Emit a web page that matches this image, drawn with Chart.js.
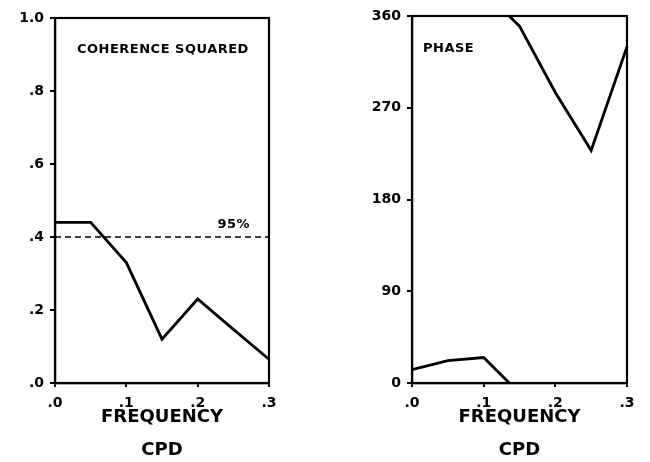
<!DOCTYPE html>
<html>
<head>
<meta charset="utf-8">
<script src="https://cdn.jsdelivr.net/npm/chart.js@4"></script>
<style>
  html, body { margin: 0; padding: 0; background: #fff; overflow: hidden; }
  body { width: 650px; height: 462px; position: relative; }
  .panel { position: absolute; top: 0; height: 470px; }
  #coh { left: 0; width: 300px; }
  #pha { left: 340px; width: 310px; }
</style>
</head>
<body>
<div class="panel" id="coh"><canvas id="cohChart"></canvas></div>
<div class="panel" id="pha"><canvas id="phaChart"></canvas></div>
<script>
const freq = [0, 0.05, 0.1, 0.15, 0.2, 0.25, 0.3];
const coherence = [0.44, 0.44, 0.33, 0.12, 0.23, 0.147, 0.065];
const phaseDeg = [13, 22, 25, 350, 285, 228, 330];
const sigLevel = 0.4;
const sigLabel = "95%";
const freqTicks = [0, 0.1, 0.2, 0.3];
const cohTicks = [0, 0.2, 0.4, 0.6, 0.8, 1.0];
const phaseTicks = [0, 90, 180, 270, 360];

const FONT = "'DejaVu Sans', sans-serif";
const INK = "#000";

// phase is wrapped into 0..360, so draw it unwrapped and once more shifted up 360
const unwrapped = [];
phaseDeg.forEach((v, i) => {
  if (i > 0) {
    const prev = unwrapped[i - 1];
    while (v - prev > 180) v -= 360;
    while (v - prev < -180) v += 360;
  }
  unwrapped.push(v);
});

const pts = (xs, ys) => xs.map((x, i) => ({ x: x, y: ys[i] }));

const panelText = {
  id: "panelText",
  afterDraw(chart, args, opts) {
    const { ctx, chartArea } = chart;
    ctx.save();
    ctx.strokeStyle = INK;
    ctx.lineWidth = 2.2;
    ctx.strokeRect(chartArea.left, chartArea.top, chartArea.right - chartArea.left, chartArea.bottom - chartArea.top);
    ctx.fillStyle = INK;
    ctx.font = "bold 13px " + FONT;
    ctx.letterSpacing = "0.5px";
    ctx.textBaseline = "middle";
    ctx.textAlign = "left";
    ctx.fillText(opts.text, chartArea.left + opts.dx, chartArea.top + opts.dy);
    if (opts.sig) {
      const y = chart.scales.y.getPixelForValue(sigLevel);
      ctx.textAlign = "right";
      ctx.fillText(sigLabel, chartArea.right - 19, y - 12);
    }
    ctx.restore();
  }
};

function axisX() {
  return {
    type: "linear", min: 0, max: 0.3,
    afterBuildTicks: s => { s.ticks = freqTicks.map(v => ({ value: v })); },
    afterFit: s => { s.height = 87; },
    grid: { display: true, drawOnChartArea: false, color: INK, lineWidth: 2, tickLength: 4 },
    border: { display: true, color: INK, width: 2.2 },
    ticks: {
      color: INK, padding: 8, maxRotation: 0,
      font: { family: FONT, weight: "bold", size: 14 },
      callback: v => "." + Math.round(v * 10)
    },
    title: {
      display: true, text: ["FREQUENCY", "CPD"], color: INK,
      font: { family: FONT, weight: "bold", size: 18, lineHeight: 1.83 },
      padding: { top: 0, bottom: 3 }
    }
  };
}

function axisY(min, max, ticks, width, fmt) {
  return {
    type: "linear", min: min, max: max,
    afterBuildTicks: s => { s.ticks = ticks.map(v => ({ value: v })); },
    afterFit: s => { s.width = width; },
    grid: { display: true, drawOnChartArea: false, color: INK, lineWidth: 2, tickLength: 5 },
    border: { display: true, color: INK, width: 2.2 },
    ticks: { color: INK, padding: 6, font: { family: FONT, weight: "bold", size: 14 }, callback: fmt }
  };
}

const lineStyle = { borderColor: INK, borderWidth: 2.8, pointRadius: 0, tension: 0, fill: false };

new Chart(document.getElementById("cohChart"), {
  type: "scatter",
  data: {
    datasets: [
      Object.assign({ data: pts(freq, coherence), showLine: true }, lineStyle),
      { data: pts([0, 0.3], [sigLevel, sigLevel]), showLine: true, borderColor: INK, borderWidth: 1.6,
        borderDash: [6, 4], pointRadius: 0 }
    ]
  },
  options: {
    responsive: true, maintainAspectRatio: false, animation: false,
    layout: { padding: { left: 0, top: 18, right: 31, bottom: 0 } },
    plugins: { legend: { display: false }, tooltip: { enabled: false },
      panelText: { text: "COHERENCE SQUARED", dx: 22, dy: 32, sig: true } },
    scales: {
      x: axisX(),
      y: axisY(0, 1, cohTicks, 55, v => v === 1 ? "1.0" : "." + Math.round(v * 10))
    }
  },
  plugins: [panelText]
});

new Chart(document.getElementById("phaChart"), {
  type: "scatter",
  data: {
    datasets: [
      Object.assign({ data: pts(freq, unwrapped), showLine: true }, lineStyle),
      Object.assign({ data: pts(freq, unwrapped.map(v => v + 360)), showLine: true }, lineStyle)
    ]
  },
  options: {
    responsive: true, maintainAspectRatio: false, animation: false,
    layout: { padding: { left: 0, top: 16, right: 23, bottom: 0 } },
    plugins: { legend: { display: false }, tooltip: { enabled: false },
      panelText: { text: "PHASE", dx: 11, dy: 33, sig: false } },
    scales: {
      x: axisX(),
      y: axisY(0, 360, phaseTicks, 72, v => String(v))
    }
  },
  plugins: [panelText]
});
</script>
</body>
</html>
